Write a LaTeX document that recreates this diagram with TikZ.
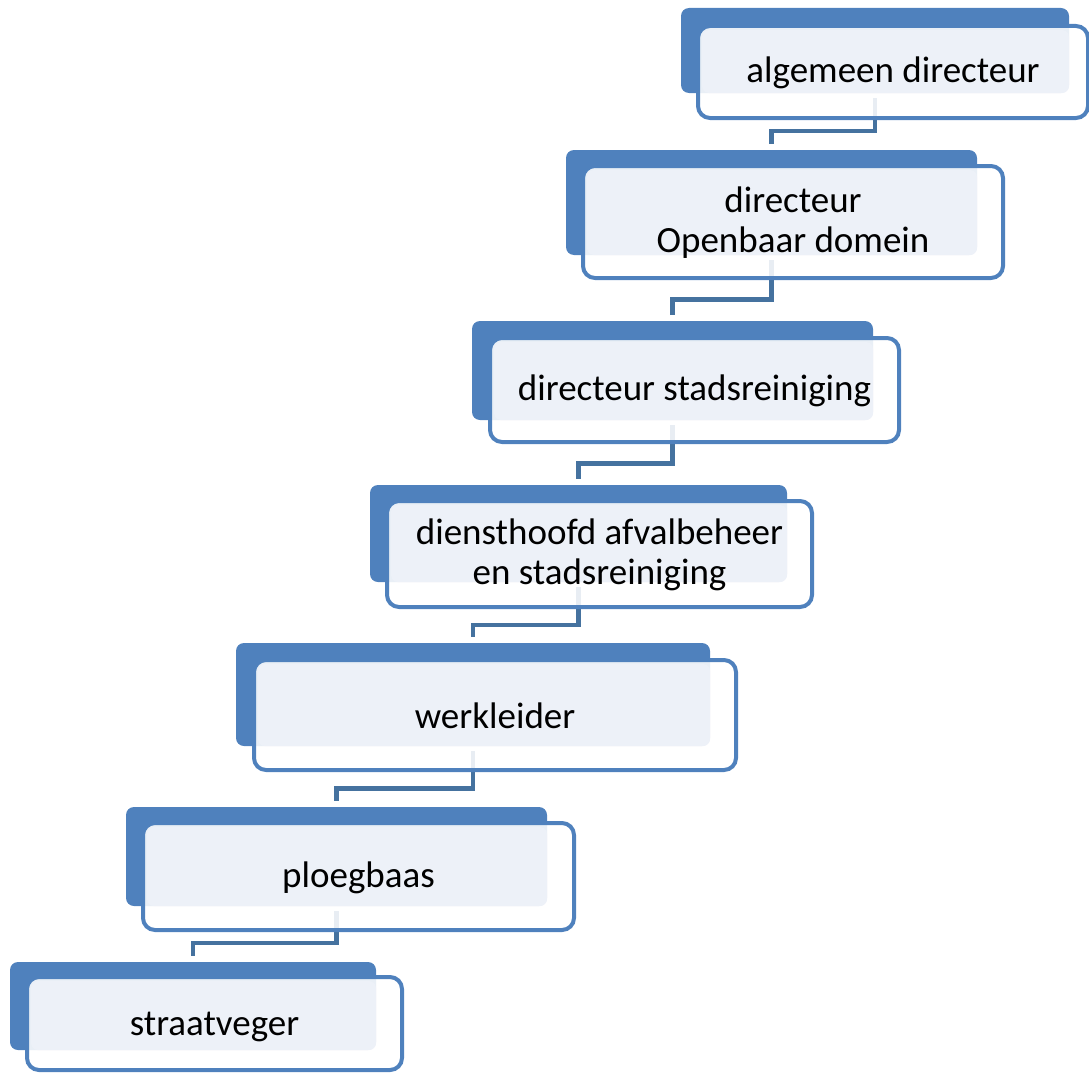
\documentclass[tikz,border=0pt]{standalone}
\usepackage{fontspec}
\setmainfont{Carlito}
\usetikzlibrary{calc,backgrounds}
\definecolor{accent}{HTML}{4F81BD}
\definecolor{pale}{HTML}{EDF1F8}
\definecolor{linkblue}{HTML}{45729F}
\begin{document}
\begin{tikzpicture}[x=1pt, y=-1pt,
	back/.style={fill=accent, rounded corners=8pt, inner sep=0pt, outer sep=0pt, anchor=north west},
	frame/.style={draw=accent, line width=4pt, fill=white, fill opacity=0.88, rounded corners=12pt, inner sep=0pt, outer sep=0pt, anchor=north west},
	pale box/.style={fill=pale, rounded corners=7pt},
	lbl/.style={font=\fontsize{37}{40}\selectfont, align=center},
	link/.style={draw=linkblue, line width=4.5pt}]
			\useasboundingbox (0,0) rectangle (1089,1073);
			% algemeen directeur
			\node[back, minimum width=388pt, minimum height=85pt] (b1) at (681,8) {};
			\node[frame, minimum width=390pt, minimum height=92pt] (o1) at (698,26) {};
			\fill[pale box] ([shift={(4pt,-4pt)}]o1.north west) rectangle (b1.south east);
			\node[lbl] (t1) at ([yshift=-1pt]o1.center) {algemeen directeur};
			% directeur openbaar domein
			\node[back, minimum width=411pt, minimum height=105pt] (b2) at (566,150) {};
			\node[frame, minimum width=420pt, minimum height=112pt] (o2) at (583,166) {};
			\fill[pale box] ([shift={(4pt,-4pt)}]o2.north west) rectangle (b2.south east);
			\node[lbl] (t2) at ([yshift=-1pt]o2.center) {directeur\\Openbaar domein};
			% directeur stadsreiniging
			\node[back, minimum width=401pt, minimum height=99pt] (b3) at (472,321) {};
			\node[frame, minimum width=409pt, minimum height=104pt] (o3) at (490,338) {};
			\fill[pale box] ([shift={(4pt,-4pt)}]o3.north west) rectangle (b3.south east);
			\node[lbl] (t3) at ([yshift=-1pt]o3.center) {directeur stadsreiniging};
			% diensthoofd
			\node[back, minimum width=417pt, minimum height=97pt] (b4) at (370,485) {};
			\node[frame, minimum width=425pt, minimum height=106pt] (o4) at (387,501) {};
			\fill[pale box] ([shift={(4pt,-4pt)}]o4.north west) rectangle (b4.south east);
			\node[lbl] (t4) at ([yshift=-1pt]o4.center) {diensthoofd afvalbeheer\\en stadsreiniging};
			% werkleider
			\node[back, minimum width=474pt, minimum height=103pt] (b5) at (236,643) {};
			\node[frame, minimum width=482pt, minimum height=110pt] (o5) at (254,660) {};
			\fill[pale box] ([shift={(4pt,-4pt)}]o5.north west) rectangle (b5.south east);
			\node[lbl] (t5) at ([yshift=-1pt]o5.center) {werkleider};
			% ploegbaas
			\node[back, minimum width=421pt, minimum height=99pt] (b6) at (126,807) {};
			\node[frame, minimum width=431pt, minimum height=107pt] (o6) at (143,823) {};
			\fill[pale box] ([shift={(4pt,-4pt)}]o6.north west) rectangle (b6.south east);
			\node[lbl] (t6) at ([yshift=-1pt]o6.center) {ploegbaas};
			% straatveger
			\node[back, minimum width=366pt, minimum height=88pt] (b7) at (10,962) {};
			\node[frame, minimum width=375pt, minimum height=93pt] (o7) at (27,977) {};
			\fill[pale box] ([shift={(4pt,-4pt)}]o7.north west) rectangle (b7.south east);
			\node[lbl] (t7) at ([yshift=-3pt]o7.center) {straatveger};
			\begin{pgfonlayer}{background}
			\draw[link] ([yshift=-5pt]b1.south) |- ($(o1.south)!0.4!(b2.north)$) -| ([yshift=6pt]b2.north);
			\draw[link] ([yshift=-5pt]b2.south) |- ($(o2.south)!0.5!(b3.north)$) -| ([yshift=6pt]b3.north);
			\draw[link] ([yshift=-5pt]b3.south) |- ($(o3.south)!0.5!(b4.north)$) -| ([yshift=6pt]b4.north);
			\draw[link] ([yshift=-5pt]b4.south) |- ($(o4.south)!0.5!(b5.north)$) -| ([yshift=6pt]b5.north);
			\draw[link] ([yshift=-5pt]b5.south) |- ($(o5.south)!0.5!(b6.north)$) -| ([yshift=6pt]b6.north);
			\draw[link] ([yshift=-5pt]b6.south) |- ($(o6.south)!0.4!(b7.north)$) -| ([yshift=6pt]b7.north);
			\end{pgfonlayer}
		\end{tikzpicture}
\end{document}
